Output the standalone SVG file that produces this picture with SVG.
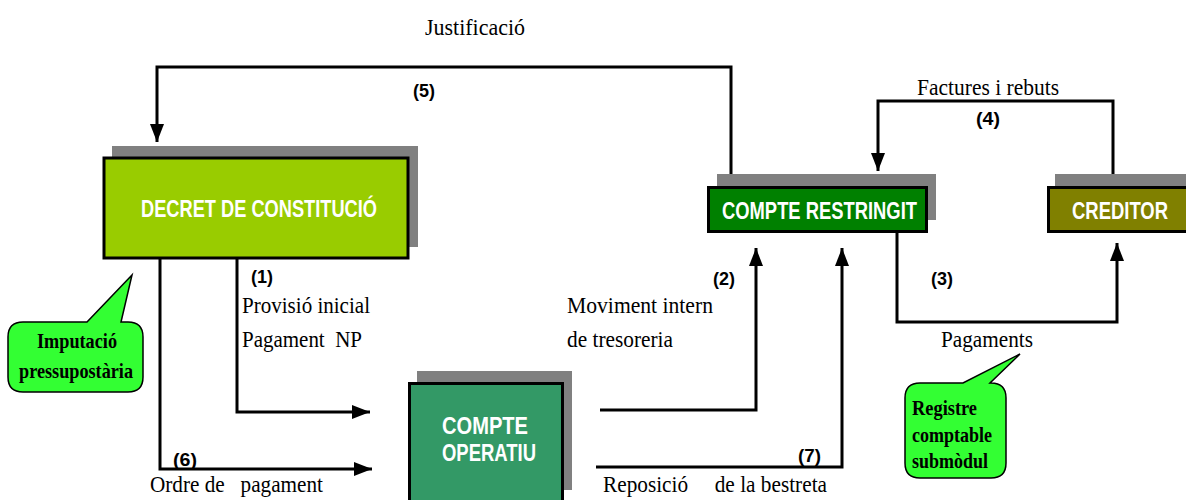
<svg xmlns="http://www.w3.org/2000/svg" width="1186" height="500" viewBox="0 0 1186 500">
<style>
.shadow{fill:#808080}
.box{stroke:#000;stroke-width:3}
.btxt{font-family:"Liberation Sans",Arial,sans-serif;font-weight:bold;font-size:23px;fill:#fff}
.lbl{font-family:"Liberation Serif","Times New Roman",serif;font-size:24px;fill:#000;white-space:pre}
.num{font-family:"Liberation Sans",Arial,sans-serif;font-weight:bold;font-size:19px;fill:#000}
.call{fill:#33FF33;stroke:#000;stroke-width:1.5}
.ctxt{font-family:"Liberation Serif","Times New Roman",serif;font-weight:bold;font-size:21px;fill:#000}
.conn{fill:none;stroke:#000;stroke-width:3}
</style>
<defs>
<marker id="ah" markerUnits="userSpaceOnUse" markerWidth="18" markerHeight="14" refX="18" refY="7" orient="auto">
<path d="M0,0 L18,7 L0,14 Z" fill="#000"/>
</marker>
</defs>
<rect width="1186" height="500" fill="#fff"/>

<g id="connectors">
<path class="conn" d="M731,186 V67 H157 V142" marker-end="url(#ah)"/>
<path class="conn" d="M1113,186 V101 H878 V171" marker-end="url(#ah)"/>
<path class="conn" d="M897,233 V322 H1117 V243" marker-end="url(#ah)"/>
<path class="conn" d="M600,410 H756 V248" marker-end="url(#ah)"/>
<path class="conn" d="M596,467 H842 V248" marker-end="url(#ah)"/>
<path class="conn" d="M237,259 V412 H370" marker-end="url(#ah)"/>
<path class="conn" d="M160,259 V469 H372" marker-end="url(#ah)"/>
</g>

<g id="labels">
<text class="lbl" x="425" y="35" textLength="100" lengthAdjust="spacingAndGlyphs">Justificació</text>
<text class="num" x="413" y="97" textLength="22" lengthAdjust="spacingAndGlyphs">(5)</text>
<text class="lbl" x="917" y="95" textLength="142" lengthAdjust="spacingAndGlyphs">Factures i rebuts</text>
<text class="num" x="976" y="125" textLength="24" lengthAdjust="spacingAndGlyphs">(4)</text>
<text class="num" x="251" y="283" textLength="22" lengthAdjust="spacingAndGlyphs">(1)</text>
<text class="lbl" x="242" y="313" textLength="128" lengthAdjust="spacingAndGlyphs">Provisió inicial</text>
<text class="lbl" x="242" y="347" textLength="120" lengthAdjust="spacingAndGlyphs">Pagament  NP</text>
<text class="num" x="173" y="466" textLength="24" lengthAdjust="spacingAndGlyphs">(6)</text>
<text class="lbl" x="150" y="492" textLength="173" lengthAdjust="spacingAndGlyphs">Ordre de   pagament</text>
<text class="num" x="713" y="285" textLength="22" lengthAdjust="spacingAndGlyphs">(2)</text>
<text class="lbl" x="567" y="313" textLength="146" lengthAdjust="spacingAndGlyphs">Moviment intern</text>
<text class="lbl" x="567" y="347" textLength="106" lengthAdjust="spacingAndGlyphs">de tresoreria</text>
<text class="num" x="931" y="285" textLength="22" lengthAdjust="spacingAndGlyphs">(3)</text>
<text class="lbl" x="941" y="347" textLength="92" lengthAdjust="spacingAndGlyphs">Pagaments</text>
<text class="num" x="798" y="462" textLength="23" lengthAdjust="spacingAndGlyphs">(7)</text>
<text class="lbl" x="603" y="492" textLength="224" lengthAdjust="spacingAndGlyphs">Reposició     de la bestreta</text>
</g>

<g id="decret">
<rect class="shadow" x="112" y="146" width="306" height="101"/>
<rect class="box" x="104" y="158" width="304" height="100" fill="#99CC00"/>
<text class="btxt" x="141" y="217" textLength="236" lengthAdjust="spacingAndGlyphs">DECRET DE CONSTITUCIÓ</text>
</g>

<g id="compte-restringit">
<rect class="shadow" x="717" y="174" width="219" height="46"/>
<rect class="box" x="708.5" y="187.5" width="218" height="44" fill="#008000"/>
<text class="btxt" x="722" y="219" textLength="195" lengthAdjust="spacingAndGlyphs">COMPTE RESTRINGIT</text>
</g>

<g id="creditor">
<rect class="shadow" x="1055" y="174" width="131" height="46"/>
<rect class="box" x="1048.5" y="187.5" width="139" height="44" fill="#808000"/>
<text class="btxt" x="1072" y="219" textLength="96" lengthAdjust="spacingAndGlyphs">CREDITOR</text>
</g>

<g id="compte-operatiu">
<rect class="shadow" x="417" y="371" width="155" height="119"/>
<rect class="box" x="409.5" y="383.5" width="153" height="130" fill="#339966"/>
<text class="btxt" x="442" y="434" textLength="86" lengthAdjust="spacingAndGlyphs">COMPTE</text>
<text class="btxt" x="442" y="461" textLength="94" lengthAdjust="spacingAndGlyphs">OPERATIU</text>
</g>

<g id="imputacio">
<path class="call" d="M23,322 H87 L132,275 L121,322 H128 Q143,322 143,337 V377 Q143,392 128,392 H23 Q8,392 8,377 V337 Q8,322 23,322 Z"/>
<text class="ctxt" x="37" y="348" textLength="80" lengthAdjust="spacingAndGlyphs">Imputació</text>
<text class="ctxt" x="19" y="378" textLength="114" lengthAdjust="spacingAndGlyphs">pressupostària</text>
</g>

<g id="registre">
<path class="call" d="M920,383 H963 L1020,354 L990,383 H991 Q1006,383 1006,398 V463 Q1006,478 991,478 H920 Q905,478 905,463 V398 Q905,383 920,383 Z"/>
<text class="ctxt" x="912" y="415" textLength="65" lengthAdjust="spacingAndGlyphs">Registre</text>
<text class="ctxt" x="912" y="442" textLength="80" lengthAdjust="spacingAndGlyphs">comptable</text>
<text class="ctxt" x="912" y="468" textLength="76" lengthAdjust="spacingAndGlyphs">submòdul</text>
</g>
</svg>
